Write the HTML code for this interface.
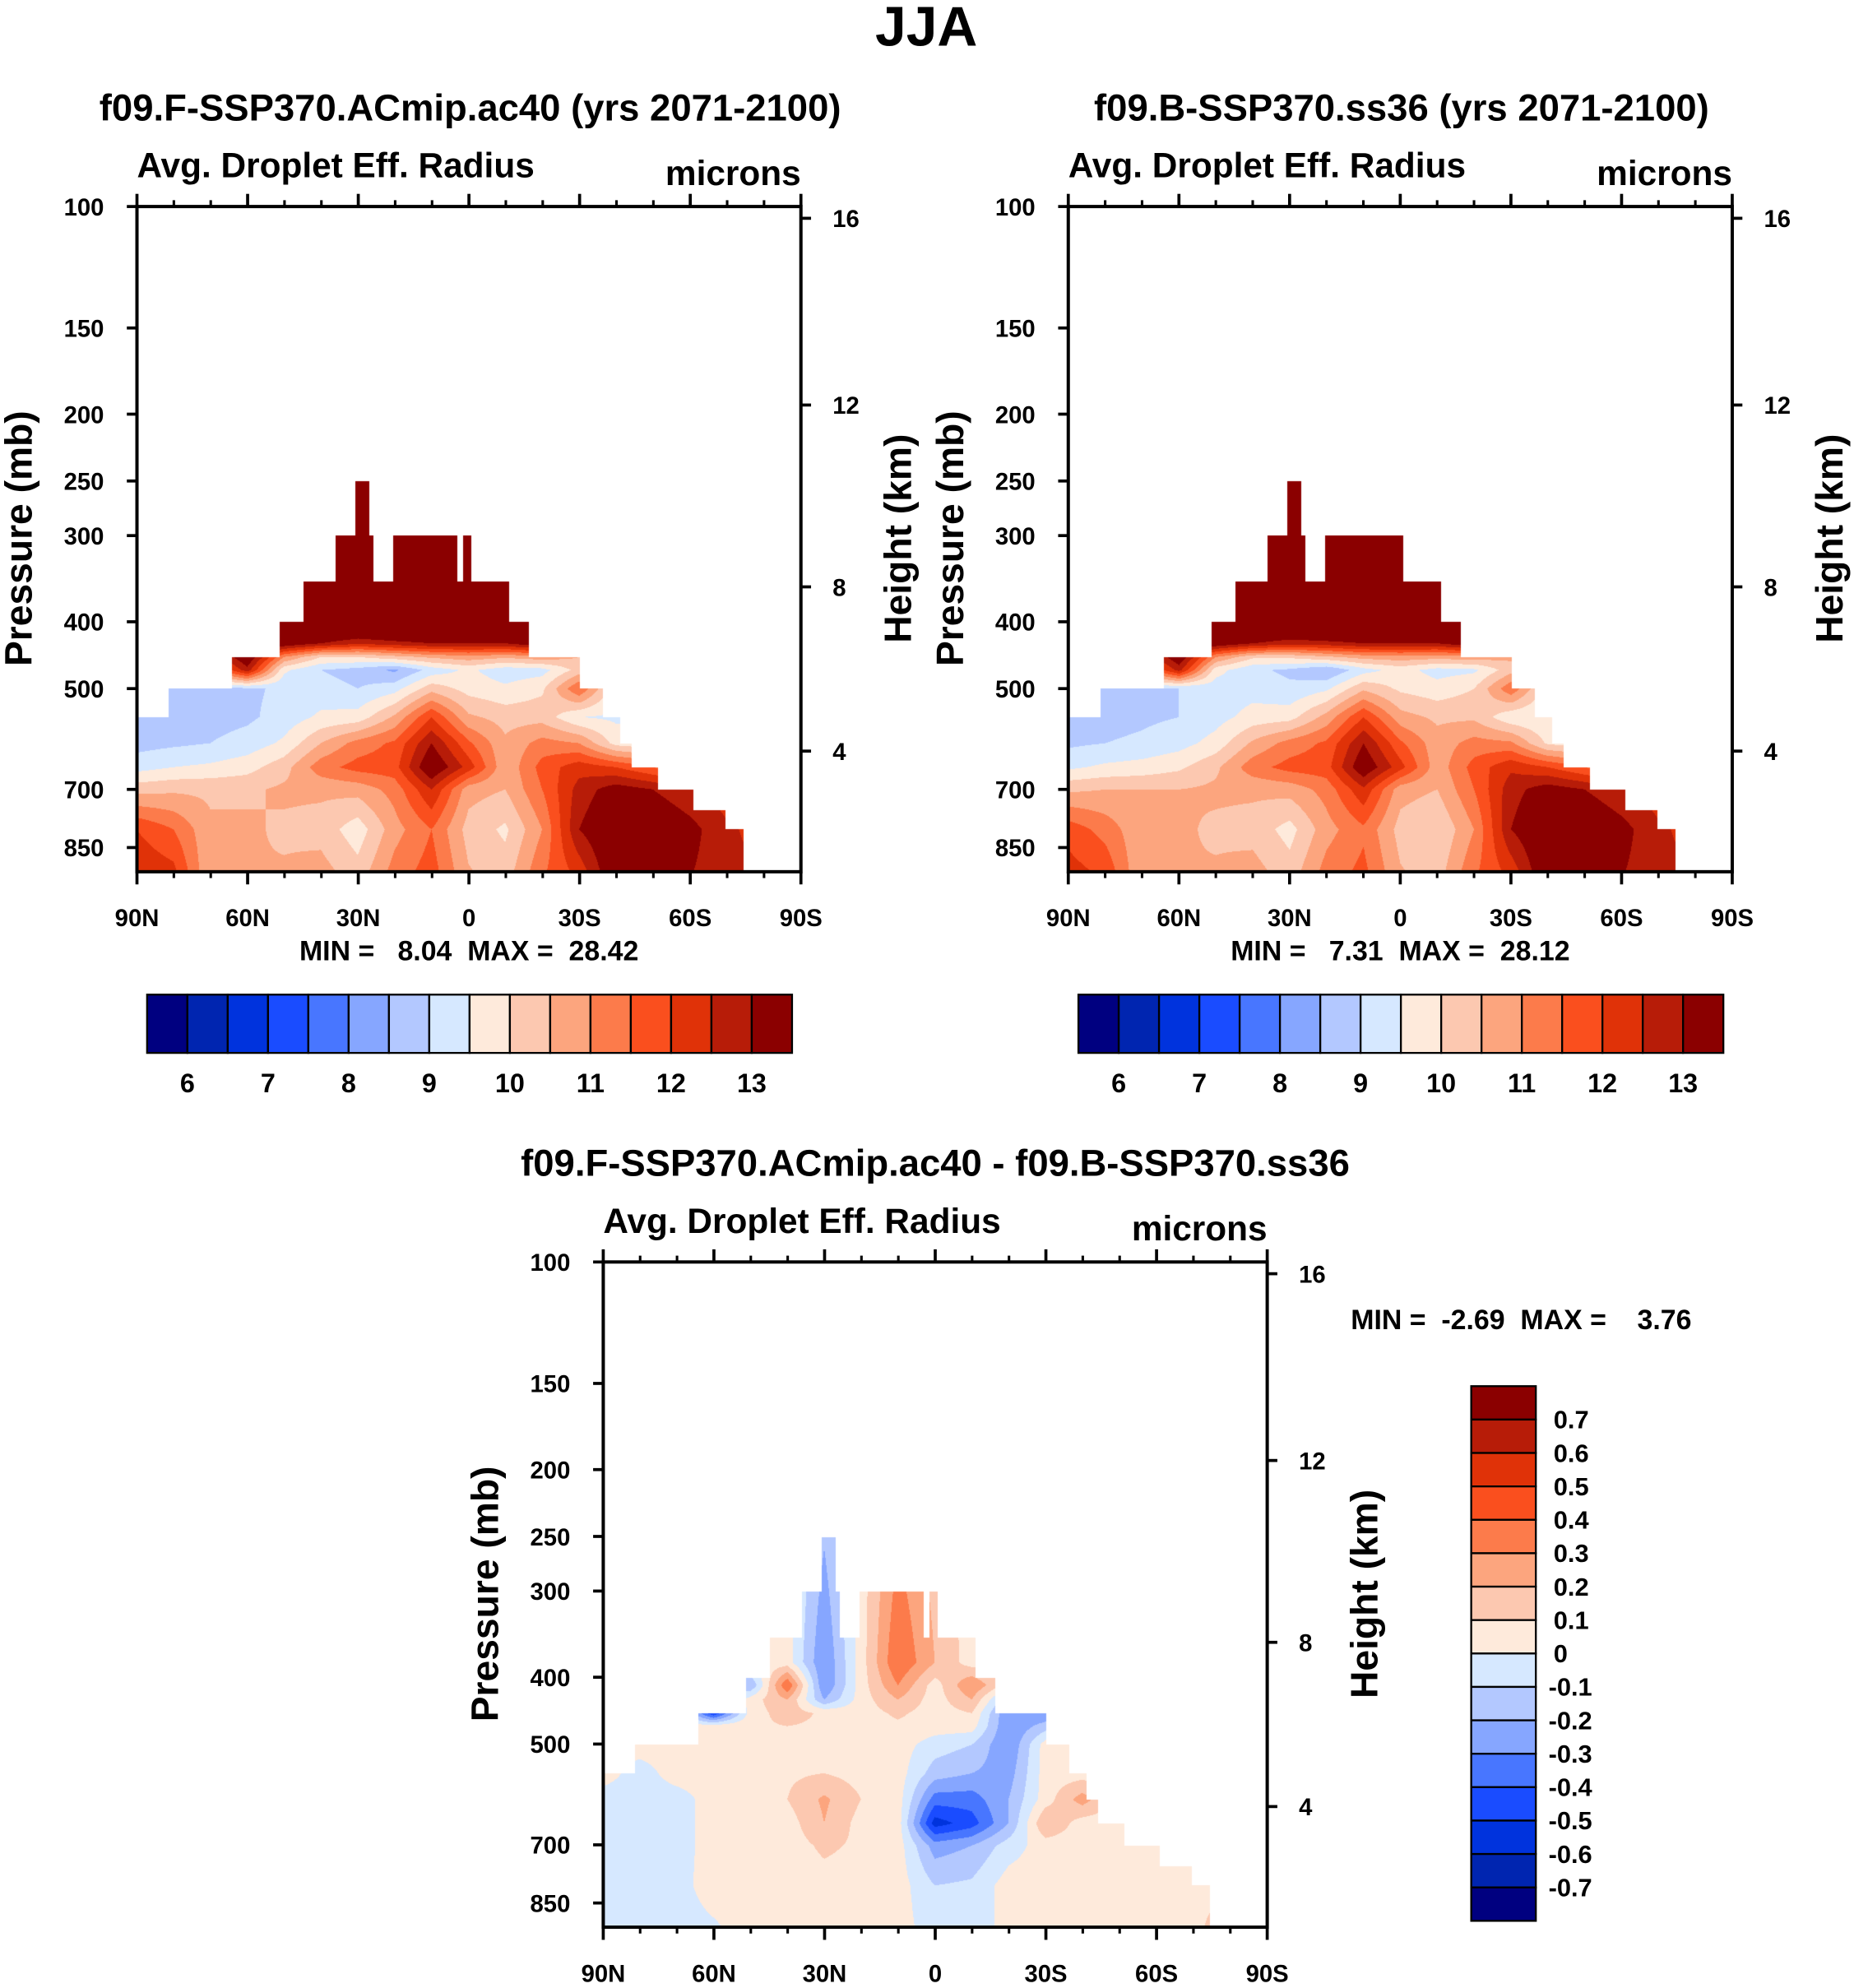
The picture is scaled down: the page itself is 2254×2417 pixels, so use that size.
<!DOCTYPE html>
<html><head><meta charset="utf-8">
<style>
html,body{margin:0;padding:0;background:#fff;}
#root{position:relative;width:2254px;height:2417px;overflow:hidden;background:#fff;}
canvas{position:absolute;}
svg{position:absolute;left:0;top:0;}
text{font-family:"Liberation Sans",Arial,sans-serif;font-weight:bold;fill:#000;white-space:pre;}
</style></head>
<body>
<div id="root">
<canvas id="c1"></canvas>
<canvas id="c2"></canvas>
<canvas id="c3"></canvas>
<svg id="svg" width="2254" height="2417" viewBox="0 0 1463 1569">
<text x="731" y="36" text-anchor="middle" font-size="44">JJA</text>
</svg>
</div>
<script>
// ---------- data ----------
const lats = [90,80,70,60,50,40,30,20,10,0,-10,-20,-30,-40,-50,-60,-70,-80,-90];
const levels = [100,380,410,430,450,470,500,550,600,650,700,800,950];
const maskLatEdges = [90,81.4,64.2,51.2,44.7,36.1,30.6,26.8,25.8,20.3,3.1,1.4,-0.7,-11,-16.5,-30.2,-36.4,-41.2,-44.3,-51.5,-61.1,-69.7,-74.5,-90];
const maskTopP = [550,500,450,400,350,300,250,300,350,300,350,300,350,400,450,500,550,600,650,700,750,800,9999];
const maskTopP2 = [550,500,450,400,350,300,250,300,350,300,300,300,350,400,450,500,550,600,650,700,750,800,9999];

const f1_100=[14,14,14,14,14,14,14,14,14,14,14,14,14,14,14,14,14,14,14];
const f1_380=[14,14,14,14,14,14,14,14,14,14,14,14,14,14,14,14,14,14,14];
const f1_410=[14,14,14,14,14,14,13.8,14,14,14,14,14,14,14,14,14,14,14,14];
const f1_430=[13.5,13.5,13.5,13.8,13.5,13,12.6,12.8,13,13,13,13.5,13,13,13,13,13,13,13];
const f1_450=[12,12,12,13.6,11,10,10,10.3,10.6,10.8,10.6,10.8,10.5,10,10,10,10,10,10];
const f1_470=[10,10,11,12.8,9.6,9.0,8.8,8.4,9.2,9.6,9.2,9.3,10.2,10,10,10,10,10,10];
const f1_500=[8.8,8.6,8.8,8.9,9.1,9.2,9.0,9.3,10.3,9.8,9.6,9.9,11.5,9.6,9.6,9.6,9.6,9.6,9.6];
const f1_550=[8.6,8.7,8.8,8.9,9.2,9.6,9.7,10.6,12,10.6,10.3,10.3,9.5,9.4,9.4,9.4,9.4,9.4,9.4];
const f1_600=[8.8,8.9,9.0,9.2,9.6,10.5,11.2,11.6,13,11.6,10.6,11.2,11,9.8,9.6,9.6,9.6,9.6,9.6];
const f1_650=[9.3,9.5,9.6,9.8,10.3,11.3,11.7,11.8,13.6,12.3,10.6,11.7,12.3,12,11.5,11,11,11,11];
const f1_700=[10.3,10.4,10.4,10.4,10.6,10.6,10.7,11.2,12.5,10.7,10.5,11.5,12.7,13.3,13,12.6,12.2,12,12];
const f1_800=[12,11.5,10.6,10.6,10.4,10.3,9.7,10.8,11.5,10.3,9.9,11,13,13.7,13.6,13.2,12.6,12.3,12.3];
const f1_950=[12.5,12.3,10.5,10.5,10.6,10.8,10.3,11.3,11.8,10.6,10.3,11.5,12,13.6,13.6,13,12.7,12.5,12.5];

const f2_100=[14,14,14,14,14,14,14,14,14,14,14,14,14,14,14,14,14,14,14];
const f2_380=[14,14,14,14,14,14,14,14,14,14,14,14,14,14,14,14,14,14,14];
const f2_410=[14,14,14,14,14,14,13.8,14,14,14,14,14,14,14,14,14,14,14,14];
const f2_430=[13.5,13.5,13.5,13.8,13.5,13,12.7,12.8,13,13,13,13.5,13,13,13,13,13,13,13];
const f2_450=[12,12,12,13.5,11,10.1,10.1,10.4,10.7,10.8,10.7,10.8,10.6,10,10,10,10,10,10];
const f2_470=[10,10,11,12.7,9.7,9.1,8.9,8.5,9.3,9.7,9.3,9.4,10.3,10,10,10,10,10,10];
const f2_500=[8.9,8.7,8.9,9,9.2,9.3,9.1,9.4,10.4,9.9,9.7,10,11.4,9.7,9.7,9.7,9.7,9.7,9.7];
const f2_550=[8.7,8.8,8.9,9,9.3,9.7,9.8,10.7,12,10.7,10.4,10.4,9.6,9.5,9.5,9.5,9.5,9.5,9.5];
const f2_600=[8.9,9.0,9.1,9.3,9.7,10.6,11.2,11.6,13,11.6,10.7,11.2,11.1,9.9,9.7,9.7,9.7,9.7,9.7];
const f2_650=[9.4,9.6,9.7,9.9,10.4,11.3,11.7,11.8,13.5,12.2,10.7,11.7,12.4,12,11.5,11,11,11,11];
const f2_700=[10.4,10.5,10.5,10.5,10.6,10.6,10.7,11.2,12.4,10.7,10.5,11.5,12.8,13.3,13,12.6,12.2,12,12];
const f2_800=[11.8,11.3,10.6,10.6,10.4,10.3,9.8,10.8,11.4,10.3,10,11,13,13.7,13.6,13.2,12.6,12.3,12.3];
const f2_950=[12.3,12,10.5,10.5,10.6,10.8,10.3,11.3,11.7,10.6,10.3,11.5,12,13.6,13.6,13,12.7,12.5,12.5];

const d_100=[0.05,0.05,0.05,0.05,0.05,0.05,0.05,0.05,0.05,0.05,0.05,0.05,0.05,0.05,0.05,0.05,0.05,0.05,0.05];
const d_380=[0.05,0.05,0.05,0.05,0.05,0.05,-0.3,0.05,0.4,0.2,0.05,0.05,0.05,0.05,0.05,0.05,0.05,0.05,0.05];
const d_410=[0.05,0.05,0.05,0.05,-0.2,0.4,-0.3,0.05,0.3,0.05,0.3,0.05,-0.4,0.05,0.05,0.05,0.05,0.05,0.05];
const d_430=[0.05,0.05,0.05,-0.3,0.05,0.2,-0.2,0.05,0.2,0.05,0.2,-0.2,-0.3,0.05,0.05,0.05,0.05,0.05,0.05];
const d_450=[0.05,0.05,0.05,-0.5,0.05,0.15,0.08,0.05,0.12,0.05,0.1,-0.3,-0.3,0.05,0.05,0.05,0.05,0.05,0.05];
const d_470=[0.05,0.05,0.05,0.05,0.08,0.1,0.08,0.05,0.08,0.05,0.05,-0.3,-0.15,0.05,0.05,0.05,0.05,0.05,0.05];
const d_500=[0.05,0.05,0.05,0.05,0.06,0.1,0.06,0.05,0.05,-0.05,-0.1,-0.3,0.05,0.05,0.05,0.05,0.05,0.05,0.05];
const d_550=[0.05,-0.05,0.05,0.05,0.06,0.08,0.1,0.06,0.05,-0.15,-0.2,-0.25,0.05,0.05,0.05,0.05,0.05,0.05,0.05];
const d_600=[-0.05,-0.05,-0.05,0.05,0.06,0.1,0.22,0.1,0.05,-0.35,-0.35,-0.2,0.05,0.25,0.05,0.05,0.05,0.05,0.05];
const d_650=[-0.05,-0.05,-0.05,0.05,0.05,0.05,0.2,0.06,0.05,-0.55,-0.45,-0.2,0.2,0.05,0.05,0.05,0.05,0.05,0.05];
const d_700=[-0.05,-0.05,-0.05,0.05,0.05,0.05,0.12,0.08,0.05,-0.25,-0.2,-0.05,0.05,0.05,0.05,0.05,0.05,0.05,0.05];
const d_800=[-0.05,-0.05,-0.04,0.05,0.05,0.05,0.06,0.06,0.05,-0.1,-0.08,0.05,0.05,0.05,0.05,0.05,0.05,0.06,0.05];
const d_950=[-0.05,-0.05,-0.05,-0.03,0.05,0.05,0.05,0.05,0.05,-0.05,-0.08,0.05,0.05,0.05,0.05,0.05,0.05,0.25,0.2];

const grid1=[f1_100,f1_380,f1_410,f1_430,f1_450,f1_470,f1_500,f1_550,f1_600,f1_650,f1_700,f1_800,f1_950];
const grid2=[f2_100,f2_380,f2_410,f2_430,f2_450,f2_470,f2_500,f2_550,f2_600,f2_650,f2_700,f2_800,f2_950];
const grid3=[d_100,d_380,d_410,d_430,d_450,d_470,d_500,d_550,d_600,d_650,d_700,d_800,d_950];

const palette=['#000080','#0025b0','#0033dd','#1a4cff','#4876ff','#86a6ff','#b3c8ff','#d6e8ff','#feeadb','#fcc8b0','#fca57e','#fc7b4b','#fa4f1e','#e03208','#b71c08','#8b0000'];
const bounds12=[6,6.5,7,7.5,8,8.5,9,9.5,10,10.5,11,11.5,12,12.5,13];
const bounds3=[-0.7,-0.6,-0.5,-0.4,-0.3,-0.2,-0.1,0,0.1,0.2,0.3,0.4,0.5,0.6,0.7];
const cbLabels12=['6','7','8','9','10','11','12','13'];
const cbLabels3=['0.7','0.6','0.5','0.4','0.3','0.2','0.1','0','-0.1','-0.2','-0.3','-0.4','-0.5','-0.6','-0.7'];
const pTicks=[100,150,200,250,300,400,500,700,850];
const hTicks=[16,12,8,4];
const hTickP=[104,194,356,616];
const latTicks=[90,60,30,0,-30,-60,-90];
const latLabels=['90N','60N','30N','0','30S','60S','90S'];
const latMinor=[80,70,50,40,20,10,-10,-20,-40,-50,-70,-80];

// ---------- geometry ----------
const S=2254/1463;
const W=524, H=525, PSCALE=236.4;
function xOf(x0,lat){return x0+(90-lat)/180*W;}
function yOf(y0,p){return y0+PSCALE*Math.log(p/100);}
const svg=document.getElementById('svg');
const NS='http://www.w3.org/2000/svg';
function mk(tag,attrs,parent){const e=document.createElementNS(NS,tag);for(const k in attrs)e.setAttribute(k,attrs[k]);(parent||svg).appendChild(e);return e;}

function hexRGB(h){return [parseInt(h.slice(1,3),16),parseInt(h.slice(3,5),16),parseInt(h.slice(5,7),16)];}
const palRGB=palette.map(hexRGB);
function classify(v,b){let i=0;while(i<b.length&&v>=b[i])i++;return i;}
function topAt(lat,tops){for(let k=0;k<maskLatEdges.length-1;k++){if(lat<=maskLatEdges[k]&&lat>=maskLatEdges[k+1])return tops[k];}return 9999;}
function sample(grid,lat,p){
  let fi=(90-lat)/10; if(fi<0)fi=0; if(fi>18)fi=18;
  const i0=Math.min(17,Math.floor(fi)), tx=fi-i0;
  const lp=Math.log(p); let j=0, ty;
  if(p<=levels[0]){j=0;ty=0;}
  else if(p>=levels[levels.length-1]){j=levels.length-2;ty=1;}
  else{while(levels[j+1]<p)j++;ty=(lp-Math.log(levels[j]))/(Math.log(levels[j+1])-Math.log(levels[j]));}
  const a=grid[j][i0]*(1-tx)+grid[j][i0+1]*tx;
  const b=grid[j+1][i0]*(1-tx)+grid[j+1][i0+1]*tx;
  return a*(1-ty)+b*ty;
}
function drawField(id,x0,y0,grid,tops,bounds){
  const c=document.getElementById(id);
  const L=Math.round(x0*S),T=Math.round(y0*S),Wp=Math.round(W*S),Hp=Math.round(H*S);
  c.style.left=L+'px';c.style.top=T+'px';c.width=Wp;c.height=Hp;
  const ctx=c.getContext('2d');const img=ctx.createImageData(Wp,Hp);const d=img.data;
  for(let i=0;i<Wp;i++){
    const lat=90-(i+0.5)/Wp*180; const top=topAt(lat,tops);
    for(let j=0;j<Hp;j++){
      const p=100*Math.exp(((j+0.5)/S)/PSCALE);
      if(p<top)continue;
      const v=sample(grid,lat,p); const col=palRGB[classify(v,bounds)];
      const k=(j*Wp+i)*4; d[k]=col[0];d[k+1]=col[1];d[k+2]=col[2];d[k+3]=255;
    }
  }
  ctx.putImageData(img,0,0);
}

function panel(x0,y0,title,titleX,prefix){
  const g=mk('g',{});
  
  
  if(title){const t=mk('text',{x:titleX,y:y0-68,'text-anchor':'middle','font-size':29.5},g);t.textContent=title;
    }
  const st=mk('text',{x:x0,y:y0-23,'font-size':27.5},g);st.textContent='Avg. Droplet Eff. Radius';
  
  const un=mk('text',{x:x0+W,y:y0-17,'text-anchor':'end','font-size':27.5},g);un.textContent='microns';
  
  const fr=mk('rect',{x:x0,y:y0,width:W,height:H,fill:'none',stroke:'#000','stroke-width':2.6},g);
  
  pTicks.forEach(p=>{const y=yOf(y0,p);
    mk('line',{x1:x0-8,x2:x0,y1:y,y2:y,stroke:'#000','stroke-width':2.4},g);
    const t=mk('text',{x:x0-26,y:y+7,'text-anchor':'end','font-size':19},g);t.textContent=p;
    });
  hTicks.forEach((h,k)=>{const y=yOf(y0,hTickP[k]);
    mk('line',{x1:x0+W,x2:x0+W+8,y1:y,y2:y,stroke:'#000','stroke-width':2.4},g);
    const t=mk('text',{x:x0+W+25,y:y+7,'font-size':19},g);t.textContent=h;
    });
  latTicks.forEach((lat,k)=>{const x=xOf(x0,lat);
    mk('line',{x1:x,x2:x,y1:y0-10,y2:y0,stroke:'#000','stroke-width':2.4},g);
    mk('line',{x1:x,x2:x,y1:y0+H,y2:y0+H+10,stroke:'#000','stroke-width':2.4},g);
    const t=mk('text',{x:x,y:y0+H+43,'text-anchor':'middle','font-size':19},g);t.textContent=latLabels[k];
    });
  latMinor.forEach(lat=>{const x=xOf(x0,lat);
    mk('line',{x1:x,x2:x,y1:y0-5,y2:y0,stroke:'#000','stroke-width':2},g);
    mk('line',{x1:x,x2:x,y1:y0+H,y2:y0+H+5,stroke:'#000','stroke-width':2},g);});
  const cy=y0+262;
  const a=mk('text',{x:x0-83,y:cy,'text-anchor':'middle','font-size':30,transform:`rotate(-90 ${x0-83} ${cy})`},g);a.textContent='Pressure (mb)';
  
  const b=mk('text',{x:x0+W+87,y:cy,'text-anchor':'middle','font-size':30,transform:`rotate(-90 ${x0+W+87} ${cy})`},g);b.textContent='Height (km)';
  
}
function hColorbar(x,y,prefix){
  const g=mk('g',{});
  const bw=509/16;
  palette.forEach((c,i)=>{const r=mk('rect',{x:x+i*bw,y:y,width:bw,height:46,fill:c,stroke:'#000','stroke-width':1.5},g);
    });
  cbLabels12.forEach((l,k)=>{const t=mk('text',{x:x+(1+2*k)*bw,y:y+77,'text-anchor':'middle','font-size':21},g);t.textContent=l;
    });
}
function stat(x,y,txt,name,anchor){const t=mk('text',{x:x,y:y,'text-anchor':anchor,'font-size':22});t.textContent=txt;
  }

drawField('c1',108,163,grid1,maskTopP,bounds12);
drawField('c2',843,163,grid2,maskTopP2,bounds12);
drawField('c3',476,996,grid3,maskTopP,bounds3);
panel(108,163,'f09.F-SSP370.ACmip.ac40 (yrs 2071-2100)',371,'panel1');
panel(843,163,'f09.B-SSP370.ss36 (yrs 2071-2100)',1106,'panel2');
panel(476,996,'',0,'diff');
const dt=mk('text',{x:738,y:928,'text-anchor':'middle','font-size':29.5});dt.textContent='f09.F-SSP370.ACmip.ac40 - f09.B-SSP370.ss36';

stat(370,758,'MIN =   8.04  MAX =  28.42','panel1-min-max','middle');
stat(1105,758,'MIN =   7.31  MAX =  28.12','panel2-min-max','middle');
stat(1066,1049,'MIN =  -2.69  MAX =    3.76','difference-min-max','start');
hColorbar(116,785,'panel1');
hColorbar(851,785,'panel2');
(function(){
  const g=mk('g',{});
  const x=1161,y=1094,bh=422/16;
  palette.slice().reverse().forEach((c,i)=>{const r=mk('rect',{x:x,y:y+i*bh,width:51,height:bh,fill:c,stroke:'#000','stroke-width':1.5},g);
    });
  cbLabels3.forEach((l,k)=>{const t=mk('text',{x:l.startsWith('-')?1222:1226,y:y+(k+1)*bh+7,'font-size':20},g);t.textContent=l;
    });
})();
</script>
</body></html>
